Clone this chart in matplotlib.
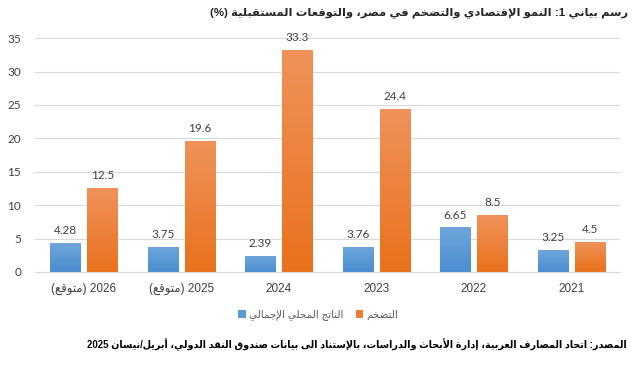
import re

import numpy as np
from matplotlib import pyplot as plt
from matplotlib.colors import LinearSegmentedColormap
from matplotlib import font_manager

# data, left to right as in the chart
categories = ["2026 (متوقع)", "2025 (متوقع)", "2024", "2023", "2022", "2021"]
gdp = [4.28, 3.75, 2.39, 3.76, 6.65, 3.25]
inflation = [12.5, 19.6, 33.3, 24.4, 8.5, 4.5]
gdp_labels = ["4.28", "3.75", "2.39", "3.76", "6.65", "3.25"]
inflation_labels = ["12.5", "19.6", "33.3", "24.4", "8.5", "4.5"]
series_names = ["الناتج المحلي الإجمالي", "التضخم"]
title = "رسم بياني 1: النمو الإقتصادي والتضخم في مصر، والتوقعات المستقبلية (%)"
source = "المصدر: اتحاد المصارف العربية، إدارة الأبحاث والدراسات، بالإستناد الى بيانات صندوق النقد الدولي، أبريل/نيسان 2025"

# matplotlib has no arabic shaping, so do a small one by hand
FORMS = {"ء": (0xFE80, 1), "آ": (0xFE81, 2), "أ": (0xFE83, 2), "ؤ": (0xFE85, 2),
         "إ": (0xFE87, 2), "ئ": (0xFE89, 4), "ا": (0xFE8D, 2), "ب": (0xFE8F, 4),
         "ة": (0xFE93, 2), "ت": (0xFE95, 4), "ث": (0xFE99, 4), "ج": (0xFE9D, 4),
         "ح": (0xFEA1, 4), "خ": (0xFEA5, 4), "د": (0xFEA9, 2), "ذ": (0xFEAB, 2),
         "ر": (0xFEAD, 2), "ز": (0xFEAF, 2), "س": (0xFEB1, 4), "ش": (0xFEB5, 4),
         "ص": (0xFEB9, 4), "ض": (0xFEBD, 4), "ط": (0xFEC1, 4), "ظ": (0xFEC5, 4),
         "ع": (0xFEC9, 4), "غ": (0xFECD, 4), "ف": (0xFED1, 4), "ق": (0xFED5, 4),
         "ك": (0xFED9, 4), "ل": (0xFEDD, 4), "م": (0xFEE1, 4), "ن": (0xFEE5, 4),
         "ه": (0xFEE9, 4), "و": (0xFEED, 2), "ى": (0xFEEF, 2), "ي": (0xFEF1, 4)}
LAM_ALEF = {"آ": 0xFEF5, "أ": 0xFEF7, "إ": 0xFEF9, "ا": 0xFEFB}
MIRROR = {"(": ")", ")": "("}


def shape(text):
    units, i = [], 0
    while i < len(text):
        c = text[i]
        if c == "ل" and i + 1 < len(text) and text[i + 1] in LAM_ALEF:
            units.append((LAM_ALEF[text[i + 1]], 2))
            i += 2
        else:
            units.append(FORMS.get(c, c))
            i += 1
    out = []
    for j, u in enumerate(units):
        if isinstance(u, str):
            out.append(u)
            continue
        base, n = u
        prev = units[j - 1] if j > 0 else None
        nxt = units[j + 1] if j + 1 < len(units) else None
        jp = isinstance(prev, tuple) and prev[1] == 4 and n > 1
        jn = n == 4 and isinstance(nxt, tuple) and nxt[1] > 1
        if jp and jn:
            out.append(chr(base + 3))
        elif jp:
            out.append(chr(base + 1))
        elif jn:
            out.append(chr(base + 2))
        else:
            out.append(chr(base))
    return "".join(out)


def ar(text):
    """Shape and put into visual order (rtl paragraph, numbers kept ltr)."""
    tokens = re.findall(r"[0-9A-Za-z]+(?:[.,/][0-9A-Za-z]+)*|.", shape(text))
    return "".join(MIRROR.get(t, t) for t in reversed(tokens))


installed = {f.name for f in font_manager.fontManager.ttflist}
cond = ["DejaVu Sans Condensed"] if "DejaVu Sans Condensed" in installed else []
AR_FONT = ["Liberation Sans"] + cond + ["DejaVu Sans"]
NUM_FONT = ["Lato", "DejaVu Sans"]
blue_cmap = LinearSegmentedColormap.from_list("b", ["#4A8DCF", "#6EA6DB"])
orange_cmap = LinearSegmentedColormap.from_list("o", ["#E8711C", "#F0925A"])

fig = plt.figure(figsize=(6.4, 3.74), dpi=100)
ax = fig.add_axes([0.055, 0.273, 0.914, 0.625])

x = np.arange(len(categories))
w = 0.31
bars_g = ax.bar(x - 0.19, gdp, w, color="#5B9BD5", zorder=2, label=ar(series_names[0]))
bars_i = ax.bar(x + 0.19, inflation, w, color="#ED7D31", zorder=2, label=ar(series_names[1]))

# vertical gradient on every bar
grad = np.linspace(0, 1, 256).reshape(-1, 1)
for bars, cmap in [(bars_g, blue_cmap), (bars_i, orange_cmap)]:
    for b in bars:
        x0, y0 = b.get_x(), b.get_y()
        im = ax.imshow(grad, cmap=cmap, origin="lower", aspect="auto", zorder=2.5,
                       extent=[x0, x0 + b.get_width(), y0, y0 + b.get_height()])
        im.set_clip_path(b)
ax.set_xlim(-0.5, len(categories) - 0.5)
ax.set_ylim(0, 35)

for bars, labels in [(bars_g, gdp_labels), (bars_i, inflation_labels)]:
    for b, lab in zip(bars, labels):
        ax.annotate(lab, (b.get_x() + b.get_width() / 2, b.get_height()),
                    xytext=(0, 5), textcoords="offset points", ha="center", va="bottom",
                    fontsize=8.5, color="#404040", family=NUM_FONT)

ax.set_yticks(range(0, 36, 5))
ax.yaxis.grid(True, color="#D9D9D9", linewidth=0.8, zorder=0)
ax.set_axisbelow(True)
for s in ["top", "right", "left"]:
    ax.spines[s].set_visible(False)
ax.spines["bottom"].set_color("#D9D9D9")
ax.tick_params(length=0)
ax.tick_params(axis="y", pad=10, labelsize=8.5, labelcolor="#404040")
ax.tick_params(axis="x", pad=8, labelsize=8.5, labelcolor="#404040")
for t in ax.get_yticklabels():
    t.set_family(NUM_FONT)
ax.set_xticks(x)
ax.set_xticklabels([ar(c) for c in categories], family=AR_FONT)

leg = ax.legend(loc="center", bbox_to_anchor=(318 / 640, 1 - 315 / 374),
                bbox_transform=fig.transFigure, ncol=2, frameon=False,
                handlelength=0.7, handleheight=0.7, handletextpad=0.3, columnspacing=1.2,
                prop={"family": AR_FONT, "size": 7.5})
for t in leg.get_texts():
    t.set_color("#595959")

# fit title and source into the width they take in the reference
t1 = fig.text(628 / 640, 1 - 13 / 374, ar(title), ha="right", va="center",
              fontsize=10, fontweight="bold", family=AR_FONT, color="#262626")
t2 = fig.text(627 / 640, 1 - 345 / 374, ar(source), ha="right", va="center",
              fontsize=8.5, fontweight="bold", family=AR_FONT, color="#000000")
fig.canvas.draw()
r = fig.canvas.get_renderer()
for t, target in [(t1, 418), (t2, 540)]:
    width = t.get_window_extent(r).width
    t.set_fontsize(t.get_fontsize() * target / width)

fig.savefig("out.png", dpi=100)
